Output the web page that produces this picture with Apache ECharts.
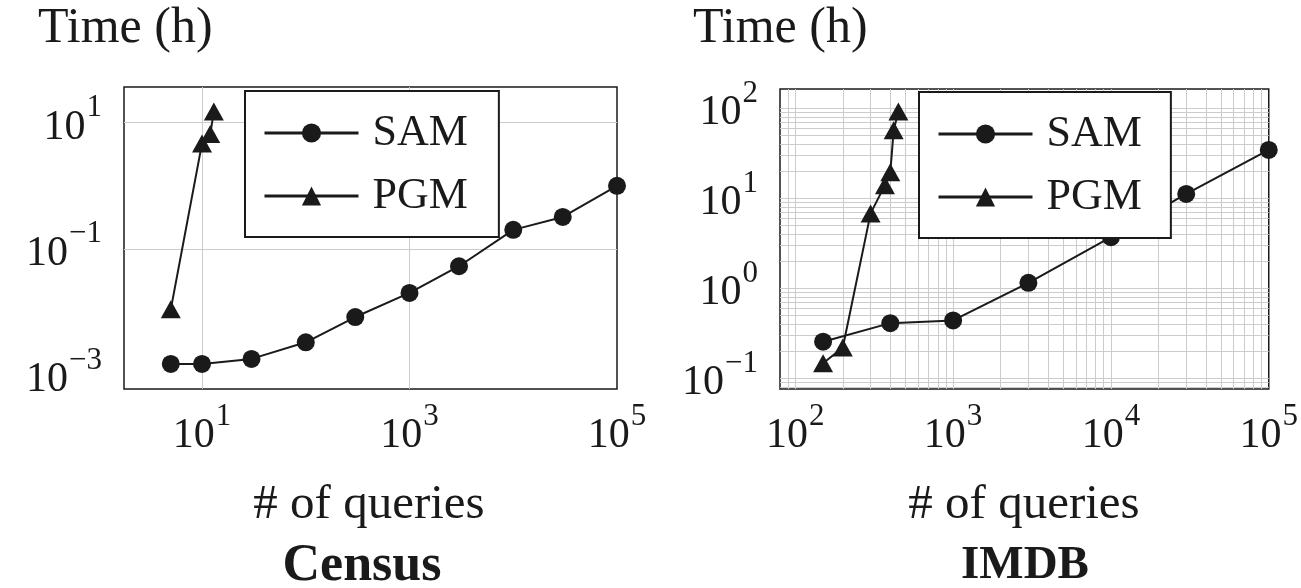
<!DOCTYPE html>
<html lang="en">
<head>
<meta charset="utf-8" />
<script src="https://cdn.jsdelivr.net/npm/echarts@6/dist/echarts.min.js"></script>
<style>
  html, body { margin: 0; background: #fff; }
  #chart { width: 1301px; height: 588px; }
</style>
<title>Time vs # of queries</title>
</head>
<body>
<div id="chart"></div>
<script>
// Census
var censusSamQueries = [5, 10, 30, 100, 300, 1000, 3000, 10000, 30000, 100000]
var censusSamTime = [0.0015, 0.0015, 0.0018, 0.0033, 0.0083, 0.02, 0.053, 0.2, 0.32, 1.0]
var censusPgmQueries = [5, 10, 12, 13]
var censusPgmTime = [0.011, 4.7, 6.6, 15]
var censusXTicks = [10, 1000, 100000]
var censusYTicks = [0.001, 0.1, 10]

// IMDB
var imdbSamQueries = [150, 400, 1000, 3000, 10000, 30000, 100000]
var imdbSamTime = [0.255, 0.41, 0.44, 1.15, 3.7, 11.2, 34.5]
var imdbPgmQueries = [150, 200, 300, 370, 400, 420, 450]
var imdbPgmTime = [0.147, 0.22, 6.8, 14, 19.5, 57, 92]
var imdbXTicks = [100, 1000, 10000, 100000]
var imdbYTicks = [0.1, 1, 10, 100]

var FONT = "'Liberation Serif', 'DejaVu Serif', serif"
var INK = '#1a1a1a'
var GRID = '#cccccc'

function zip(xs, ys) {
  return xs.map(function (x, i) { return [x, ys[i]] })
}

// label only the wanted decades, written as 10^n
function powLabel(ticks) {
  return function (v) {
    for (var i = 0; i < ticks.length; i++) {
      if (Math.abs(v / ticks[i] - 1) < 1e-6) {
        var e = Math.round(Math.log10(v))
        return '{b|10}{s|' + (e < 0 ? '\u2212' + (-e) : e) + '}'
      }
    }
    return ''
  }
}

var labelRich = {
  b: { fontFamily: FONT, fontSize: 42, color: INK, lineHeight: 56, verticalAlign: 'bottom' },
  s: { fontFamily: FONT, fontSize: 31, color: INK, lineHeight: 31, verticalAlign: 'top', padding: [0, 0, 0, 1] }
}

// grid lines (major + minor) in axis units, drawn as mark lines
function minorLines(decades, lo, hi) {
  var out = []
  decades.forEach(function (d) {
    for (var m = 1; m <= 9; m++) {
      var v = d * m
      if (v > lo * 1.0001 && v < hi * 0.9999) out.push(v)
    }
  })
  return out
}

function gridMarks(xs, ys) {
  return {
    silent: true,
    symbol: ['none', 'none'],
    z: 1,
    animation: false,
    label: { show: false },
    emphasis: { disabled: true },
    lineStyle: { color: GRID, width: 1, type: 'solid' },
    data: xs.map(function (v) { return { xAxis: v } })
      .concat(ys.map(function (v) { return { yAxis: v } }))
  }
}

var cX = [1.77, 100000], cY = [0.0006, 36.8]
var iX = [80, 100000], iY = [0.076, 164]

function axisX(idx, ext, ticks) {
  return {
    type: 'log', logBase: 10, gridIndex: idx, min: ext[0], max: ext[1],
    axisLine: { show: false }, axisTick: { show: false }, splitLine: { show: false },
    axisLabel: { formatter: powLabel(ticks), rich: labelRich, margin: 12, showMinLabel: true, showMaxLabel: true }
  }
}
function axisY(idx, ext, ticks) {
  return {
    type: 'log', logBase: 10, gridIndex: idx, min: ext[0], max: ext[1],
    axisLine: { show: false }, axisTick: { show: false }, splitLine: { show: false },
    axisLabel: { formatter: powLabel(ticks), rich: labelRich, margin: 22, padding: [0, 0, 4, 0], showMinLabel: true, showMaxLabel: true }
  }
}

var lineStyle = { color: INK, width: 2 }

function legendAt(left, top, rightPad) {
  return {
    data: ['SAM', 'PGM'], orient: 'vertical', left: left, top: top,
    padding: [20, rightPad, 19, 18], itemGap: 19, itemWidth: 94, itemHeight: 24,
    backgroundColor: '#fff', borderColor: INK, borderWidth: 2, borderRadius: 0,
    selectedMode: false, lineStyle: { width: 3 },
    textStyle: { fontFamily: FONT, fontSize: 44, color: INK, padding: [0, 0, 0, 9] }
  }
}

var chart = echarts.init(document.getElementById('chart'), null, { renderer: 'canvas' })
chart.setOption({
  animation: false,
  backgroundColor: '#fff',
  grid: [
    { left: 124, top: 87, width: 493, height: 302, show: true, borderColor: INK, borderWidth: 1.5 },
    { left: 780, top: 89, width: 491, height: 300, show: true, borderColor: INK, borderWidth: 1.5 }
  ],
  xAxis: [axisX(0, cX, censusXTicks), axisX(1, iX, imdbXTicks)],
  yAxis: [axisY(0, cY, censusYTicks), axisY(1, iY, imdbYTicks)],
  legend: [legendAt(245, 91, 31), legendAt(919, 92, 29)],
  graphic: [
    { type: 'text', x: 38, y: 29, style: { text: 'Time (h)', font: '50px ' + FONT, fill: INK, align: 'left', verticalAlign: 'middle' } },
    { type: 'text', x: 693, y: 29, style: { text: 'Time (h)', font: '50px ' + FONT, fill: INK, align: 'left', verticalAlign: 'middle' } },
    { type: 'text', x: 369, y: 505, style: { text: '# of queries', font: '49px ' + FONT, fill: INK, align: 'center', verticalAlign: 'middle' } },
    { type: 'text', x: 1024, y: 505, style: { text: '# of queries', font: '49px ' + FONT, fill: INK, align: 'center', verticalAlign: 'middle' } },
    { type: 'text', x: 362, y: 567, style: { text: 'Census', font: 'bold 52px ' + FONT, fill: INK, align: 'center', verticalAlign: 'middle' } },
    { type: 'text', x: 1025, y: 566, style: { text: 'IMDB', font: 'bold 47px ' + FONT, fill: INK, align: 'center', verticalAlign: 'middle' } }
  ],
  series: [
    {
      name: 'SAM', type: 'line', xAxisIndex: 0, yAxisIndex: 0,
      data: zip(censusSamQueries, censusSamTime),
      symbol: 'circle', symbolSize: 18, lineStyle: lineStyle, itemStyle: { color: INK },
      markLine: gridMarks(censusXTicks.filter(function (v) { return v < cX[1] * 0.9999 }), censusYTicks)
    },
    {
      name: 'PGM', type: 'line', xAxisIndex: 0, yAxisIndex: 0,
      data: zip(censusPgmQueries, censusPgmTime),
      symbol: 'triangle', symbolSize: [20, 18], lineStyle: lineStyle, itemStyle: { color: INK }
    },
    {
      name: 'SAM', type: 'line', xAxisIndex: 1, yAxisIndex: 1,
      data: zip(imdbSamQueries, imdbSamTime),
      symbol: 'circle', symbolSize: 18, lineStyle: lineStyle, itemStyle: { color: INK },
      markLine: gridMarks(minorLines([10, 100, 1000, 10000], iX[0], iX[1]),
        minorLines([0.01, 0.1, 1, 10, 100], iY[0], iY[1]))
    },
    {
      name: 'PGM', type: 'line', xAxisIndex: 1, yAxisIndex: 1,
      data: zip(imdbPgmQueries, imdbPgmTime),
      symbol: 'triangle', symbolSize: [20, 18], lineStyle: lineStyle, itemStyle: { color: INK }
    }
  ]
})
</script>
</body>
</html>
